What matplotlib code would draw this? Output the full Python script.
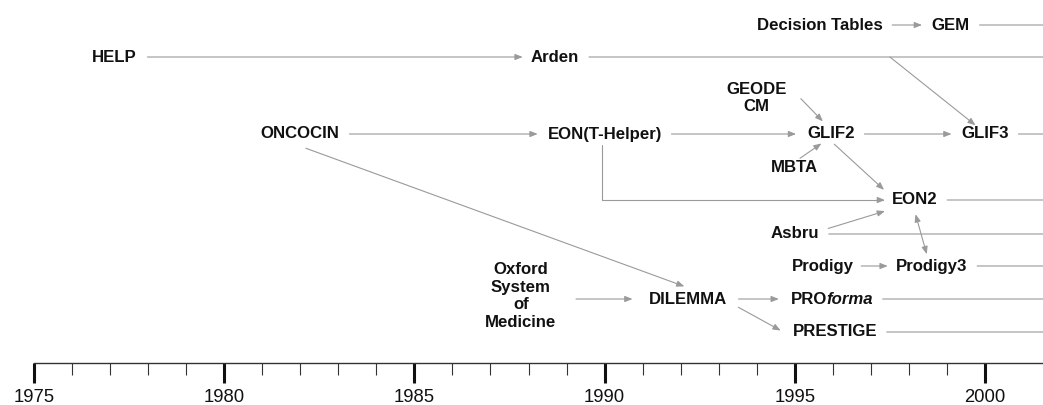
import matplotlib
matplotlib.use("Agg")
import matplotlib.pyplot as plt
from matplotlib.ticker import FixedLocator

plt.rcParams['font.family'] = ['Liberation Sans', 'DejaVu Sans']

# ---------------- data ----------------
node_names = ['HELP', 'Arden', 'Decision Tables', 'GEM', 'GEODE\nCM', 'ONCOCIN',
              'EON(T-Helper)', 'GLIF2', 'GLIF3', 'MBTA', 'EON2', 'Asbru',
              'Prodigy', 'Prodigy3', 'Oxford\nSystem\nof\nMedicine', 'DILEMMA',
              'PROforma', 'PRESTIGE']
node_years = [1977.1, 1988.7, 1995.65, 1999.1, 1994.0, 1982.0,
              1990.0, 1995.95, 2000.0, 1995.0, 1998.15, 1995.0,
              1995.75, 1998.6, 1987.8, 1992.2,
              1996.0, 1996.05]
node_rows = [57, 57, 25, 25, 98, 134,
             134, 134, 134, 167, 200, 234,
             266, 266, 296, 299,
             299, 332]

major_years = [1975, 1980, 1985, 1990, 1995, 2000]
minor_years = [y for y in range(1976, 2000) if y % 5 != 0]
year_labels = [str(y) for y in major_years]

H = ((1, 0.5), (0, 0.5))
# (source, target, source anchor, target anchor, arrowstyle, shrinkA, shrinkB)
# a source anchor y of None means "level with the target's centre"
edges = [
    ('HELP', 'Arden', H[0], H[1], '-|>', 8, 6),
    ('Decision Tables', 'GEM', H[0], H[1], '-|>', 7, 7),
    ('ONCOCIN', 'EON(T-Helper)', H[0], H[1], '-|>', 7, 7),
    ('EON(T-Helper)', 'GLIF2', H[0], H[1], '-|>', 7, 8),
    ('GLIF2', 'GLIF3', H[0], H[1], '-|>', 7, 7),
    ('Prodigy', 'Prodigy3', H[0], H[1], '-|>', 5, 6),
    ('Oxford\nSystem\nof\nMedicine', 'DILEMMA', (1, None), (0, 0.5), '-|>', 14, 12),
    ('DILEMMA', 'PROforma', H[0], H[1], '-|>', 8, 9),
    ('DILEMMA', 'PRESTIGE', (1.14, -0.05), (-0.14, 0.6), '-|>', 0, 0),
    ('ONCOCIN', 'DILEMMA', (0.57, -0.45), (0.45, 1.34), '-|>', 0, 0),
    ('GEODE\nCM', 'GLIF2', (1.23, 0.48), (0.33, 1.34), '-|>', 0, 0),
    ('MBTA', 'GLIF2', (0.61, 1.08), (0.30, -0.13), '-|>', 0, 0),
    ('GLIF2', 'EON2', (0.57, -0.18), (-0.17, 1.18), '-|>', 0, 0),
    ('Asbru', 'EON2', (1.19, 0.87), (-0.15, -0.24), '-|>', 0, 0),
    ('EON2', 'Prodigy3', (0.52, -0.45), (0.43, 1.29), '<|-|>', 0, 0),
]
elbow_edges = [('EON(T-Helper)', 'EON2', (0.48, -0.24), (-0.15, 0.5))]
branch_edges = [('Arden', 1997.5, 'GLIF3', (0.30, 1.08))]
continuing = ['GEM', 'Arden', 'GLIF3', 'EON2', 'Asbru', 'Prodigy3', 'PROforma', 'PRESTIGE']

# ---------------- style ----------------
EDGE = '#9a9a9a'
TXT = '#111111'
FS = 12.1
W, Hh, DPI = 1043, 405, 100
X0 = 1975 - 34 / 38.04
X1 = 1975 + (W - 34) / 38.04

fig = plt.figure(figsize=(W / DPI, Hh / DPI), dpi=DPI)
ax = fig.add_axes([0, 0, 1, 1])
ax.set_xlim(X0, X1)
ax.set_ylim(Hh, 0)
ax.patch.set_visible(False)
for s in ['left', 'right', 'top']:
    ax.spines[s].set_visible(False)
ax.spines['bottom'].set_position(('data', 363))
ax.spines['bottom'].set_bounds(1975, X1)
ax.spines['bottom'].set_linewidth(1.0)
ax.spines['bottom'].set_color('#333333')
ax.yaxis.set_visible(False)
ax.xaxis.set_major_locator(FixedLocator(major_years))
ax.xaxis.set_minor_locator(FixedLocator(minor_years))
ax.set_xticklabels(year_labels)
ax.tick_params(axis='x', which='major', direction='out', length=14.4, width=2.2,
               color='#111111', pad=4, labelsize=13.3, labelcolor=TXT)
ax.tick_params(axis='x', which='minor', direction='out', length=8.6, width=0.8,
               color='#333333')

arts = {}
renderer = fig.canvas.get_renderer()
px_per_year = W / (X1 - X0)
for name, yr, row in zip(node_names, node_years, node_rows):
    if name == 'PROforma':
        t1 = ax.text(yr, row, 'PRO', ha='right', va='center', fontsize=FS,
                     fontweight='bold', color=TXT)
        t2 = ax.annotate('forma', xy=(1, 0), xycoords=t1, xytext=(-1.0, 0),
                         textcoords='offset points', ha='left', va='bottom',
                         fontsize=FS, fontweight='bold', fontstyle='italic', color=TXT)
        w1 = t1.get_window_extent(renderer).width
        w2 = t2.get_window_extent(renderer).width
        t1.set_x(yr + (w1 - (w1 + w2) / 2) / px_per_year)
        arts[name] = (t1, t2)
    else:
        t = ax.text(yr, row, name, ha='center', va='center', fontsize=FS,
                    fontweight='bold', color=TXT, linespacing=1.2,
                    multialignment='center')
        arts[name] = (t, t)


def style(s):
    if s == '-':
        return '-'
    return s + ',head_length=0.5,head_width=0.2'


def link(src, sxy, dst, dxy, s='-|>', sA=0, sB=0, conn='arc3', scoords=None):
    ax.annotate('', xy=dxy, xycoords=dst, xytext=sxy,
                textcoords=scoords if scoords is not None else src,
                arrowprops=dict(arrowstyle=style(s), color=EDGE, lw=0.8,
                                shrinkA=sA, shrinkB=sB, connectionstyle=conn,
                                mutation_scale=9),
                annotation_clip=False)


for s, d, sa, da, st, sA, sB in edges:
    src_art = arts[s][1]
    dst_art = arts[d][0]
    if sa[1] is None:
        sb = src_art.get_window_extent(renderer)
        db = dst_art.get_window_extent(renderer)
        yc = db.y0 + da[1] * db.height
        sa = (sa[0], (yc - sb.y0) / sb.height)
    link(src_art, sa, dst_art, da, st, sA, sB)

for s, d, sa, da in elbow_edges:
    link(arts[s][1], sa, arts[d][0], da, '-|>', 0, 0,
         conn='angle,angleA=90,angleB=0,rad=0')

for s, byear, d, da in branch_edges:
    srow = node_rows[node_names.index(s)]
    link(None, (byear, srow), arts[d][0], da, '-|>', 0, 0, scoords='data')

for name in continuing:
    row = node_rows[node_names.index(name)]
    link(arts[name][1], (1, 0.5), ax.get_yaxis_transform(), (1, row), '-', 7, 0)

fig.savefig('out.png', dpi=DPI)
